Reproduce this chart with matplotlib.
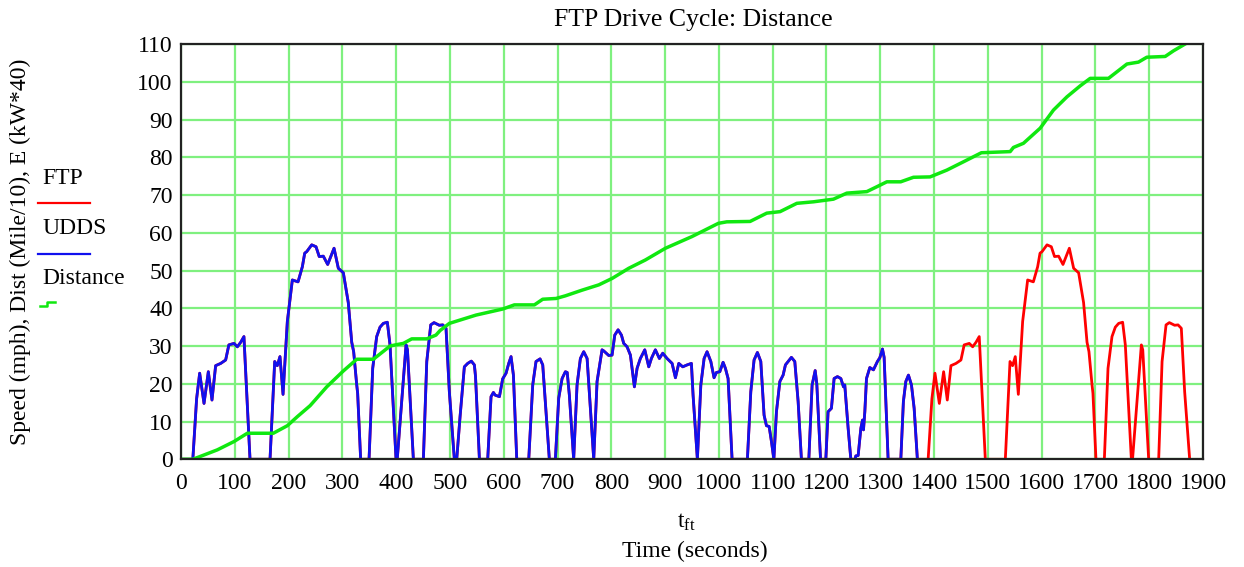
import matplotlib
matplotlib.use("Agg")
import matplotlib.pyplot as plt
from matplotlib.lines import Line2D

# UDDS speed trace (seconds, mph)
udds_t = [0, 22, 29, 34.7, 42.8, 50.8, 57.6, 64.4, 73.8, 83, 89, 98.5, 104.8, 111, 117,
          128.3, 165.5, 174.2, 179, 184, 189.7, 197.7, 207, 217.6, 225.6, 230, 233.7, 243,
          251, 257, 264.6, 272.7, 284.5, 292.5, 301.8, 311, 317.4, 321, 326.7, 328.4, 334,
          349.6, 356.4, 363.8, 370, 376.2, 383.6, 388.6, 399.8, 402, 418.4, 421, 432,
          450.6, 456.9, 464.3, 470.4, 480.3, 486.6, 492.7, 498.9, 508.2,
          512.6, 518.8, 526.8, 533, 539.8, 545.4, 547.5, 554.8, 570.2, 576.4, 580.8, 584,
          592, 598, 604.3, 609.3, 613.6, 618, 624.2, 646.5, 653.9, 660, 667.5, 672.5,
          684.8, 696, 702.2, 708.5, 714.6, 718, 722, 730, 736.3, 742.5, 748.7, 755, 761,
          767.3, 773.5, 782.8, 786, 795.2, 801.4, 806.4, 812.6, 818.8, 823.1, 829.3, 835.5,
          842.9, 847.9, 854, 862.2, 869.6, 874.5, 881.9, 889.4, 895.6, 903.7, 913, 919.2,
          925.4, 932.8, 940.9, 948.9, 952, 960, 966.4, 972.5, 978, 985, 991, 995.4,
          1001.7, 1007.8, 1012.1, 1017.1, 1024.5, 1053, 1059.3, 1065.4, 1071.6, 1077.9,
          1084, 1088.4, 1093.4, 1097.7, 1102.2, 1107, 1113.3, 1119.4, 1123.7, 1128.7,
          1134.8, 1141.1, 1147.3, 1153.4, 1167.2, 1173.3, 1179, 1182, 1189, 1198.8, 1203,
          1209.2, 1214.2, 1220.4, 1226.7, 1231.6, 1234, 1240.3, 1245.3, 1253, 1254.6,
          1258.9, 1263.9, 1267, 1268.8, 1271.3, 1274.4, 1280.6, 1287.3, 1294.7, 1299.2,
          1304.1, 1307.2, 1314.6, 1338.2, 1343, 1347.5, 1352.4, 1358, 1363, 1369]
udds_v = [0, 0, 16, 22.8, 14.8, 23.2, 15.7, 24.8, 25.4, 26.3, 30.3, 30.7, 29.8, 31, 32.5,
          0, 0, 25.9, 24.8, 27.2, 17.2, 36.5, 47.5, 47, 51, 54.6, 55, 56.8,
          56.3, 53.7, 53.8, 51.6, 55.9, 50.6, 49.4, 41.5, 31, 28.5, 19.7, 17.5, 0,
          0, 24.1, 32.5, 35, 36, 36.3, 30.3, 0, 0, 30.3, 29, 0,
          0, 25.9, 35.6, 36.2, 35.5, 35.6, 34.7, 17.9, 0,
          0, 11.3, 24.5, 25.4, 26, 25, 22, 0, 0, 16.6, 17.7, 17,
          16.6, 21.3, 22.8, 25.4, 27.2, 22.3, 0, 0, 19.7, 25.9, 26.6, 25,
          0, 0, 16.2, 21.4, 23.2, 23, 17, 0, 19.7, 26.7, 28.5, 26.7, 13.5,
          0, 20.6, 29, 28.7, 27.5, 27.6, 32.9, 34.3, 32.9, 30.7, 29.8, 27.6,
          19.2, 24.1, 26.7, 29, 24.5, 26.7, 29, 26.7, 28.1, 26.7, 25.4, 21.6,
          25.4, 24.5, 25, 25.4, 17, 0, 19.7, 26.7, 28.5, 25.9, 21.6, 23,
          23.2, 25.7, 24.1, 21.4, 0, 0, 17.9, 26.3, 28.3, 25.9,
          11.7, 8.9, 8.7, 4.7, 0, 12.6, 20.6, 22.3, 25, 25.9,
          27, 25.9, 15.3, 0, 0, 19.7, 23.5, 20, 0, 0, 12.6,
          13.5, 21.4, 21.9, 21.4, 19.2, 19.7, 8.2, 0, 0, 0.9,
          1, 8.2, 10.4, 7.8, 12.6, 21.4, 24.3, 23.7, 25.9, 26.9,
          29.2, 27, 0, 0, 15.3, 20.6, 22.3, 19.7, 13.5, 0]

# FTP = full UDDS followed by a repeat of its first 505 s (hot start phase)
hot_offset = 1367
hot_length = 508.2
ftp_t = udds_t + [t + hot_offset for t in udds_t if 0 < t <= hot_length]
ftp_v = udds_v + [v for t, v in zip(udds_t, udds_v) if 0 < t <= hot_length]

# Cumulative distance (tenths of a mile)
dist_t = [0, 22, 67.5, 98.5, 123.3, 171.6, 197.7, 216.3, 240, 271, 301.8, 326.7, 357.6,
          388.6, 402, 413.4, 429, 456.9, 474, 481.6, 498.9, 548.5, 598, 619.7, 657, 672.5,
          697.3, 714.6, 745.6, 776.7, 801.4, 832.5, 863.4, 900.6, 950, 999, 1014.7, 1058,
          1089, 1113.8, 1144.9, 1175.7, 1212.9, 1237.8, 1275, 1296.6, 1312.2, 1338,
          1361.7, 1392.7, 1423.8, 1454.7, 1488, 1541.5, 1547.6, 1566.2, 1597.3, 1622,
          1647, 1671.6, 1690.3, 1724.3, 1758.6, 1780, 1795.6, 1829.7, 1845.2, 1860.8, 1874]
dist_d = [0, 0, 2.5, 4.7, 6.9, 6.9, 8.9, 11.3, 14.2, 19.2, 23.4, 26.5, 26.5,
          30, 30.4, 30.7, 31.9, 31.9, 32.9, 34.1, 36, 38.2, 39.8, 40.9, 40.9, 42.4,
          42.6, 43.3, 44.8, 46.2, 47.9, 50.6, 52.8, 55.9, 59, 62.5, 62.9, 63,
          65.2, 65.6, 67.8, 68.2, 68.9, 70.5, 70.9, 72.4, 73.5, 73.5,
          74.7, 74.8, 76.6, 78.8, 81.2, 81.5, 82.6, 83.7, 87.7, 92.5,
          96, 98.9, 100.9, 100.9, 104.7, 105.2, 106.5, 106.7, 108.2, 109.5, 110.6]

x_ticks = list(range(0, 1901, 100))
y_ticks = list(range(0, 111, 10))

W, H = 1244, 567
FS = 17
plt.rcParams['font.family'] = ['Liberation Serif', 'DejaVu Serif']
plt.rcParams['mathtext.fontset'] = 'custom'
plt.rcParams['mathtext.rm'] = 'Liberation Serif'
plt.rcParams['mathtext.it'] = 'Liberation Serif'

fig = plt.figure(figsize=(W / 100, H / 100), dpi=100)
ax = fig.add_axes([181 / W, 1 - 459.3 / H, (1203 - 181) / W, 415.3 / H])

ax.plot(ftp_t, ftp_v, color='#ff0000', lw=2.0, zorder=3)
ax.plot(udds_t, udds_v, color='#1010ee', lw=2.0, zorder=4)
ax.plot(dist_t, dist_d, color='#10e810', lw=2.5, zorder=5, clip_on=True)

ax.set_xlim(0, 1900)
ax.set_ylim(0, 110)
ax.set_xticks(x_ticks)
ax.set_yticks(y_ticks)
ax.tick_params(length=0, labelsize=FS)
ax.tick_params(axis='x', pad=10)
ax.tick_params(axis='y', pad=6)
ax.grid(True, color='#7ff07f', lw=1.6, zorder=1)
ax.set_axisbelow(True)
for s in ax.spines.values():
    s.set_color('#222222')
    s.set_linewidth(1.6)
    s.set_zorder(6)

fig.text(693 / W, 1 - 20 / H, 'FTP Drive Cycle: Distance', ha='center', va='center', fontsize=18.5)
fig.text(686 / W, 1 - 522 / H, r'$\mathrm{t}_{\mathrm{ft}}$', ha='center', va='center', fontsize=FS)
fig.text(695 / W, 1 - 551 / H, 'Time (seconds)', ha='center', va='center', fontsize=FS)
fig.text(20 / W, 1 - 252 / H, 'Speed (mph), Dist (Mile/10), E (kW*40)', ha='center',
         va='center', rotation=90, fontsize=FS)

# legend drawn in the left margin
def fx(px):
    return px / W

def fy(py):
    return 1 - py / H

fig.text(fx(42), fy(179), 'FTP', ha='left', va='center', fontsize=FS)
fig.add_artist(Line2D([fx(38), fx(90)], [fy(203), fy(203)], color='#ff0000', lw=1.6))
fig.text(fx(42), fy(229), 'UDDS', ha='left', va='center', fontsize=FS)
fig.add_artist(Line2D([fx(38), fx(90)], [fy(254), fy(254)], color='#1010ee', lw=1.6))
fig.text(fx(42), fy(279), 'Distance', ha='left', va='center', fontsize=FS)
fig.add_artist(Line2D([fx(40), fx(47), fx(47), fx(55)],
                      [fy(306), fy(306), fy(302), fy(302)], color='#10e810', lw=1.8))

fig.savefig('out.png', dpi=100)
